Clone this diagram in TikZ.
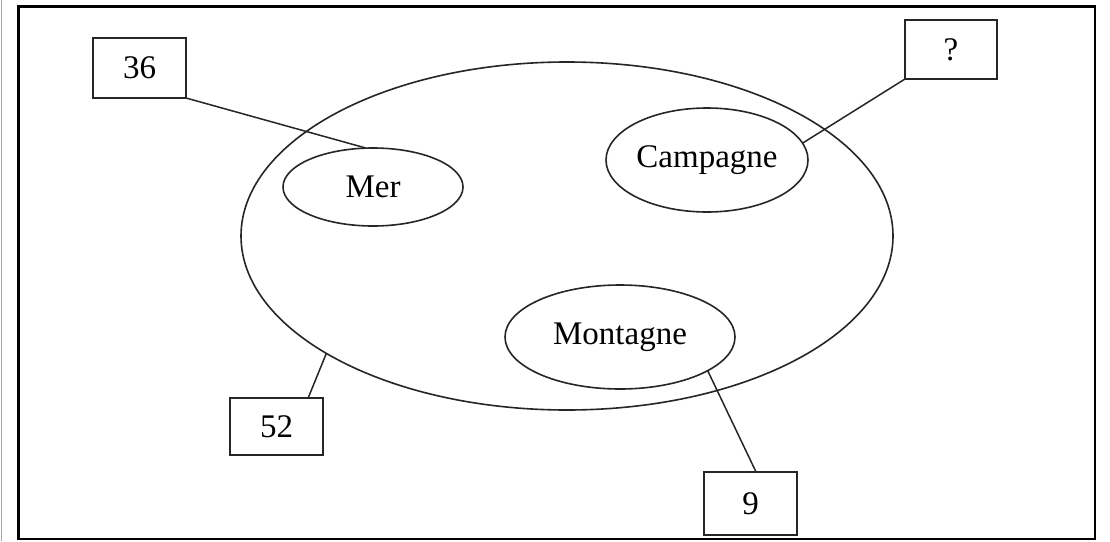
\documentclass[tikz,border=0pt]{standalone}
\usepackage{fontspec}
\setmainfont{Liberation Serif}
\usetikzlibrary{shapes.geometric,calc}
\tikzset{
  lbl/.style={draw=black!85, line width=1.6pt, rectangle, inner sep=0pt, outer sep=0pt, font=\fontsize{33}{40}\selectfont},
  oval/.style={draw=black!85, line width=1.6pt, ellipse, inner sep=0pt, outer sep=0pt, font=\fontsize{33}{40}\selectfont},
  link/.style={draw=black!85, line width=1.5pt}
}
\begin{document}
\begin{tikzpicture}[x=1pt,y=-1pt]
\useasboundingbox (0,0) rectangle (1110,541);
\fill[white] (0,0) rectangle (1110,541);
\draw[gray!70, line width=1pt] (1.5,0) -- (1.5,541);
\draw[black, line width=2.6pt] (18.5,6.5) rectangle (1095,539);
% ellipses
\node[oval, minimum width=652pt, minimum height=348pt] (all) at (567,236) {};
\node[oval, minimum width=180pt, minimum height=78pt] (mer) at (373,187) {Mer};
\node[oval, minimum width=202pt, minimum height=104pt] (camp) at (707,160) {Campagne};
\node[oval, minimum width=230pt, minimum height=104pt] (mont) at (620,337) {Montagne};
% boxes
\node[lbl, minimum width=93pt, minimum height=60pt] (b36) at (139.5,68) {36};
\node[lbl, minimum width=92pt, minimum height=59pt] (bq) at (951,49.5) {?};
\node[lbl, minimum width=93pt, minimum height=57pt] (b52) at (276.5,426.5) {52};
\node[lbl, minimum width=93pt, minimum height=63pt] (b9) at (750.5,503.5) {9};
% connectors
\draw[link] (b36.south east) -- (mer.100);
\draw[link] (bq.south west) -- (camp.10);
\draw[link] (b52.42) -- (all.206);
\draw[link] (b9.80) -- (mont.339);
\end{tikzpicture}
\end{document}
